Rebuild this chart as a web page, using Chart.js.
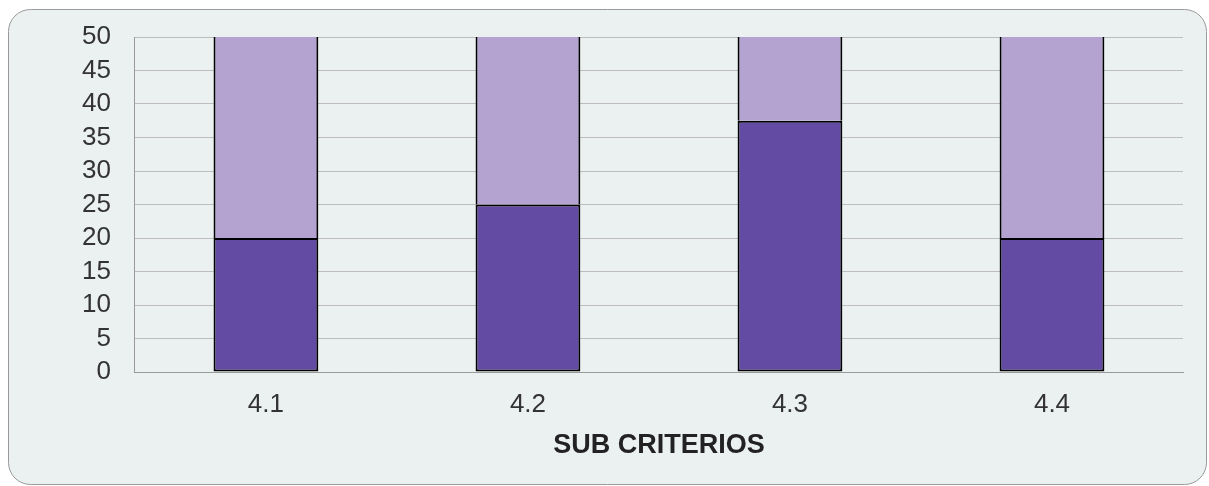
<!DOCTYPE html>
<html>
<head>
<meta charset="utf-8">
<script src="https://cdn.jsdelivr.net/npm/chart.js@4"></script>
<style>
    html, body { margin: 0; padding: 0; background: #ffffff; }
    #wrap { width: 1209px; height: 486px; position: relative; }
</style>
</head>
<body>
<div id="wrap"><canvas id="chart"></canvas></div>
<script>
const categories = ['4.1', '4.2', '4.3', '4.4']
const lowerValues = [20, 25, 37.5, 20]
const upperValues = [30, 25, 12.5, 30]

const darkPurple = '#634ba3'
const lightPurple = '#b4a3d1'

// rounded panel behind the chart
const panel = {
    id: 'panel',
    beforeDraw(chart) {
        const ctx = chart.ctx
        const x = 8.5, y = 9.5, w = 1198, h = 475, r = 22
        ctx.save()
        ctx.beginPath()
        ctx.moveTo(x + r, y)
        ctx.lineTo(x + w - r, y)
        ctx.arcTo(x + w, y, x + w, y + r, r)
        ctx.lineTo(x + w, y + h - r)
        ctx.arcTo(x + w, y + h, x + w - r, y + h, r)
        ctx.lineTo(x + r, y + h)
        ctx.arcTo(x, y + h, x, y + h - r, r)
        ctx.lineTo(x, y + r)
        ctx.arcTo(x, y, x + r, y, r)
        ctx.closePath()
        ctx.fillStyle = '#ebf0f0'
        ctx.fill()
        ctx.strokeStyle = '#9a9a9a'
        ctx.lineWidth = 1
        ctx.stroke()
        ctx.restore()
    },
}

new Chart(document.getElementById('chart'), {
    type: 'bar',
    data: {
        labels: categories,
        datasets: [
            {
                data: lowerValues,
                backgroundColor: darkPurple,
                borderColor: '#000000',
                borderWidth: 2,
                borderSkipped: false,
                barPercentage: 0.4,
                categoryPercentage: 1,
            },
            {
                data: upperValues,
                backgroundColor: lightPurple,
                borderColor: '#000000',
                borderWidth: { left: 2, right: 2, top: 0, bottom: 0 },
                borderSkipped: false,
                barPercentage: 0.4,
                categoryPercentage: 1,
            },
        ],
    },
    options: {
        responsive: true,
        maintainAspectRatio: false,
        animation: false,
        layout: { padding: { left: 58, right: 26, top: 26, bottom: 27 } },
        plugins: {
            legend: { display: false },
            tooltip: { enabled: false },
        },
        scales: {
            x: {
                stacked: true,
                grid: { display: false },
                border: { display: true, color: '#9a9a9a', width: 1 },
                ticks: {
                    color: '#333333',
                    font: { family: 'Liberation Sans', size: 26, lineHeight: 1 },
                    padding: 12,
                },
                title: {
                    display: true,
                    text: 'SUB CRITERIOS',
                    color: '#222222',
                    font: { family: 'Liberation Sans', size: 27, weight: 'bold', lineHeight: 1 },
                    padding: { top: 2, bottom: 0 },
                },
            },
            y: {
                stacked: true,
                min: 0,
                max: 50,
                grid: { color: '#bdbdbd', drawTicks: false },
                border: { display: true, color: '#9a9a9a', width: 1 },
                ticks: {
                    stepSize: 5,
                    autoSkip: false,
                    color: '#333333',
                    font: { family: 'Liberation Sans', size: 26, lineHeight: 1 },
                    padding: 24,
                },
            },
        },
    },
    plugins: [panel],
})
</script>
</body>
</html>
